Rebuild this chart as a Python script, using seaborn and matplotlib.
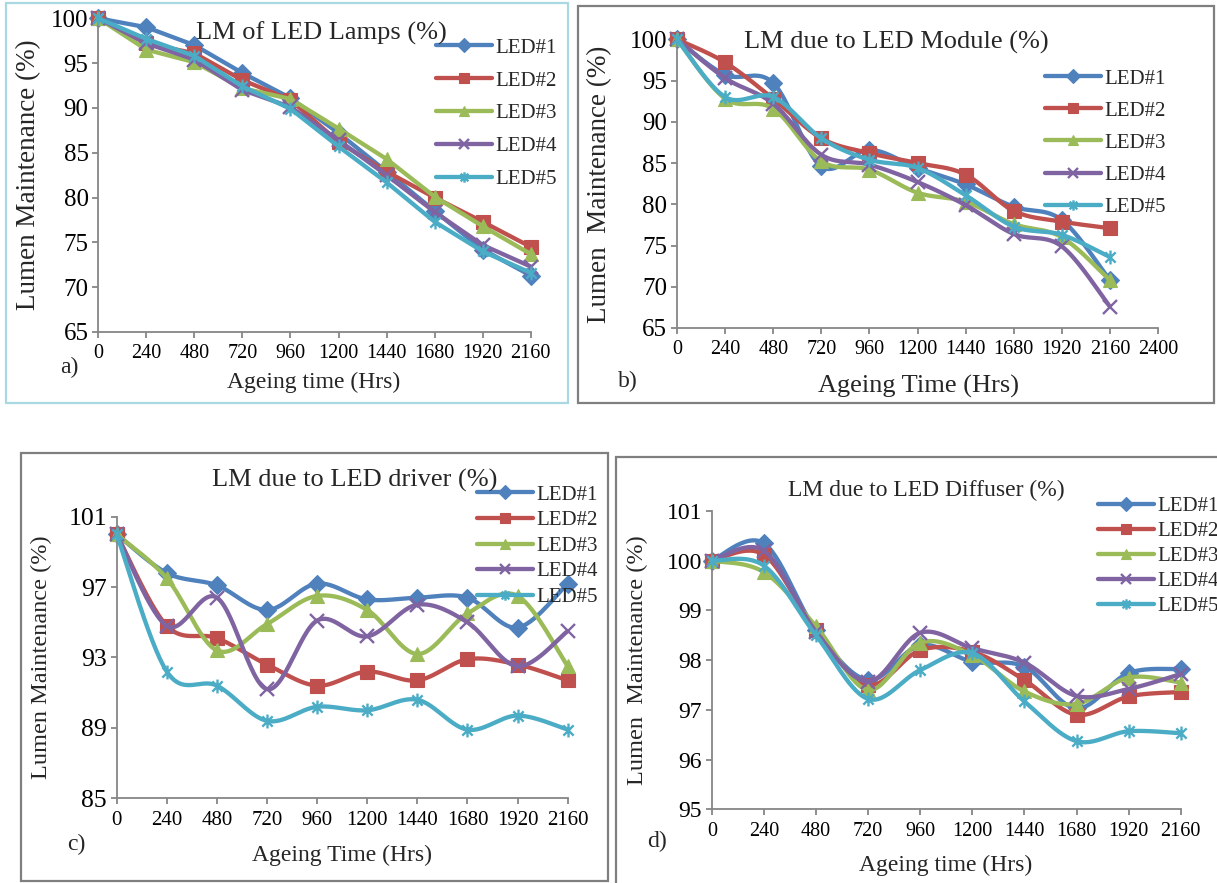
import numpy as np
import pandas as pd
import matplotlib
matplotlib.use("Agg")
import matplotlib.pyplot as plt
from matplotlib.lines import Line2D
from matplotlib.patches import Rectangle
from matplotlib.path import Path
import seaborn as sns

# ---------------------------------------------------------------- data
hours = [0, 240, 480, 720, 960, 1200, 1440, 1680, 1920, 2160]
led_names = ["LED#1", "LED#2", "LED#3", "LED#4", "LED#5"]

# a) lumen maintenance of the complete lamps (%)
lamp_led1 = [100, 99.0, 97.0, 93.9, 91.1, 87.2, 82.9, 78.5, 74.2, 71.3]
lamp_led2 = [100, 97.2, 96.1, 93.1, 90.9, 86.2, 82.9, 80.0, 77.3, 74.5]
lamp_led3 = [100, 96.5, 95.1, 92.2, 91.0, 87.7, 84.3, 80.1, 76.8, 73.7]
lamp_led4 = [100, 97.2, 95.4, 92.0, 90.1, 86.4, 82.5, 78.4, 74.7, 72.3]
lamp_led5 = [100, 97.7, 95.8, 92.4, 89.9, 85.7, 81.7, 77.3, 74.0, 71.6]

# b) lumen maintenance due to the LED module (%)
module_led1 = [100, 95.7, 94.7, 84.6, 86.6, 84.4, 82.4, 79.7, 78.1, 70.8]
module_led2 = [100, 97.2, 92.8, 88.0, 86.2, 85.0, 83.6, 79.2, 77.9, 77.1]
module_led3 = [100, 92.8, 91.6, 85.2, 84.2, 81.4, 80.3, 77.6, 76.0, 70.8]
module_led4 = [100, 95.3, 92.2, 86.0, 84.8, 82.7, 79.9, 76.4, 74.9, 67.6]
module_led5 = [100, 93.0, 93.0, 88.0, 85.4, 84.4, 81.1, 77.3, 76.3, 73.6]

# c) lumen maintenance due to the LED driver (%)
driver_led1 = [100, 97.8, 97.1, 95.7, 97.2, 96.3, 96.4, 96.4, 94.7, 97.2]
driver_led2 = [100, 94.8, 94.1, 92.6, 91.4, 92.2, 91.7, 92.9, 92.6, 91.7]
driver_led3 = [100, 97.5, 93.4, 94.9, 96.5, 95.7, 93.2, 95.5, 96.5, 92.5]
driver_led4 = [100, 94.8, 96.4, 91.2, 95.1, 94.2, 96.0, 95.0, 92.5, 94.5]
driver_led5 = [100, 92.2, 91.4, 89.4, 90.2, 90.0, 90.6, 88.9, 89.7, 88.9]

# d) lumen maintenance due to the diffuser (%)
diffuser_led1 = [100, 100.35, 98.6, 97.6, 98.3, 97.97, 97.87, 97.03, 97.74, 97.82]
diffuser_led2 = [100, 100.12, 98.6, 97.5, 98.2, 98.17, 97.6, 96.9, 97.27, 97.36]
diffuser_led3 = [100, 99.77, 98.68, 97.4, 98.35, 98.1, 97.37, 97.12, 97.65, 97.55]
diffuser_led4 = [100, 100.2, 98.57, 97.57, 98.55, 98.24, 97.95, 97.28, 97.42, 97.72]
diffuser_led5 = [100, 99.9, 98.5, 97.22, 97.8, 98.14, 97.17, 96.37, 96.57, 96.53]

# ---------------------------------------------------------------- style
sns.set_style("ticks")
plt.rcParams["font.family"] = ["Liberation Serif", "DejaVu Serif"]
plt.rcParams["axes.unicode_minus"] = False

colors = ["#4F81BD", "#C0504D", "#9BBB59", "#8064A2", "#4BACC6"]
AXIS_GREY = "#868686"

# x-with-vertical-bar marker used for the fifth series
star_path = Path(
    [(-1, -1), (1, 1), (-1, 1), (1, -1), (0, -1.35), (0, 1.35)],
    [Path.MOVETO, Path.LINETO, Path.MOVETO, Path.LINETO, Path.MOVETO, Path.LINETO],
)
markers = ["D", "s", "^", "x", star_path]
marker_sizes = [9.5, 10, 10.5, 9.5, 10]
marker_edge = [0.8, 0.8, 0.8, 1.7, 1.7]
LINE_W = 3.1

W, H = 1217, 883
fig = plt.figure(figsize=(W / 100, H / 100), dpi=100)


def fx(px):
    return px / W


def fy(py):
    return 1 - py / H


def px_rect(left, top, right, bottom):
    return [left / W, 1 - bottom / H, (right - left) / W, (bottom - top) / H]


def smooth_curve(xs, ys, steps=30):
    """Cardinal (Catmull-Rom) spline through the points, as used for smoothed chart lines."""
    p = np.column_stack([xs, ys]).astype(float)
    p = np.vstack([p[0], p, p[-1]])
    out = []
    t = np.linspace(0, 1, steps, endpoint=False)[:, None]
    for i in range(1, len(p) - 2):
        p0, p1, p2, p3 = p[i - 1], p[i], p[i + 1], p[i + 2]
        c1 = p1 + (p2 - p0) / 6
        c2 = p2 - (p3 - p1) / 6
        seg = ((1 - t) ** 3) * p1 + 3 * ((1 - t) ** 2) * t * c1 + 3 * (1 - t) * t ** 2 * c2 + t ** 3 * p2
        out.append(seg)
    out.append(p[-2][None, :])
    out = np.vstack(out)
    return out[:, 0], out[:, 1]


panels = [
    dict(series=[lamp_led1, lamp_led2, lamp_led3, lamp_led4, lamp_led5], smooth=False,
         rect=(98.3, 18.3, 530.7, 332), ylim=(65, 100), ystep=5, xmax=2160,
         title="LM of LED Lamps (%)", title_xy=(321, 33), title_size=19,
         ylabel="Lumen Maintenance (%)", ylabel_xy=(29, 175), ylabel_size=19.5,
         xlabel="Ageing time (Hrs)", xlabel_xy=(314, 382), xlabel_size=17,
         letter="a)", letter_xy=(69, 367), ytick_size=18, xtick_size=14.5,
         legend_xy=(436, 38), legend_spacing=0.64,
         border=(6, 3, 568, 403), border_color="#A8D8E2"),
    dict(series=[module_led1, module_led2, module_led3, module_led4, module_led5], smooth=True,
         rect=(677, 39.3, 1158, 328), ylim=(65, 100), ystep=5, xmax=2400,
         title="LM due to LED Module (%)", title_xy=(896, 42), title_size=19,
         ylabel="Lumen  Maintenance (%)", ylabel_xy=(600, 184), ylabel_size=19.5,
         xlabel="Ageing Time (Hrs)", xlabel_xy=(918, 386), xlabel_size=19,
         letter="b)", letter_xy=(628, 381), ytick_size=18, xtick_size=14.5,
         legend_xy=(1045, 69), legend_spacing=0.6,
         border=(577.5, 6, 1214, 403), border_color="#7F7F7F"),
    dict(series=[driver_led1, driver_led2, driver_led3, driver_led4, driver_led5], smooth=True,
         rect=(116.7, 516.7, 567.7, 798.3), ylim=(85, 101), ystep=4, xmax=2160,
         title="LM due to LED driver (%)", title_xy=(355, 480), title_size=19,
         ylabel="Lumen Maintenance (%)", ylabel_xy=(41, 657), ylabel_size=17.5,
         xlabel="Ageing Time (Hrs)", xlabel_xy=(342, 855), xlabel_size=17,
         letter="c)", letter_xy=(76, 844), ytick_size=18.5, xtick_size=15,
         legend_xy=(476.6, 485), legend_spacing=0.29,
         border=(21, 453, 608, 881), border_color="#7F7F7F"),
    dict(series=[diffuser_led1, diffuser_led2, diffuser_led3, diffuser_led4, diffuser_led5], smooth=True,
         rect=(711.8, 511, 1180.7, 809.3), ylim=(95, 101), ystep=1, xmax=2160,
         title="LM due to LED Diffuser (%)", title_xy=(926, 490), title_size=17,
         ylabel="Lumen  Maintenance (%)", ylabel_xy=(637, 660), ylabel_size=17.5,
         xlabel="Ageing time (Hrs)", xlabel_xy=(946, 865), xlabel_size=17,
         letter="d)", letter_xy=(657, 841), ytick_size=17, xtick_size=14.5,
         legend_xy=(1098, 496.5), legend_spacing=0.26,
         border=(616, 457, 1240, 900), border_color="#7F7F7F"),
]

for p in panels:
    ax = fig.add_axes(px_rect(*p["rect"]))

    for i, (name, vals) in enumerate(zip(led_names, p["series"])):
        z = 2 + i * 0.2
        if p["smooth"]:
            sx, sy = smooth_curve(hours, vals)
            sns.lineplot(x=sx, y=sy, ax=ax, color=colors[i], linewidth=LINE_W,
                         estimator=None, sort=False, clip_on=False, zorder=z,
                         solid_capstyle="round", solid_joinstyle="round")
        else:
            sns.lineplot(x=hours, y=vals, ax=ax, color=colors[i], linewidth=LINE_W,
                         estimator=None, sort=False, clip_on=False, zorder=z,
                         solid_capstyle="round", solid_joinstyle="round")
        sns.lineplot(x=hours, y=vals, ax=ax, color=colors[i], linestyle="",
                     marker=markers[i], markersize=marker_sizes[i],
                     markerfacecolor=colors[i], markeredgecolor=colors[i],
                     markeredgewidth=marker_edge[i], estimator=None, sort=False,
                     clip_on=False, zorder=z + 0.1)

    ax.set_xlim(0, p["xmax"])
    ax.set_ylim(*p["ylim"])
    ax.set_xticks(np.arange(0, p["xmax"] + 1, 240))
    ax.set_yticks(np.arange(p["ylim"][0], p["ylim"][1] + 0.01, p["ystep"]))
    ax.set_xticklabels([str(int(v)) for v in ax.get_xticks()], fontsize=p["xtick_size"])
    ax.set_yticklabels([str(int(v)) for v in ax.get_yticks()], fontsize=p["ytick_size"])
    ax.set_xlabel("")
    ax.set_ylabel("")
    for side in ("top", "right"):
        ax.spines[side].set_visible(False)
    for side in ("left", "bottom"):
        ax.spines[side].set_color(AXIS_GREY)
        ax.spines[side].set_linewidth(1.3)
    ax.tick_params(axis="both", direction="out", length=4, width=1.3,
                   color=AXIS_GREY, labelcolor="black", pad=3)
    ax.tick_params(axis="x", pad=5)
    ax.patch.set_alpha(0)

    handles = [Line2D([], [], color=colors[i], linewidth=LINE_W, marker=markers[i],
                      markersize=marker_sizes[i] * 0.75, markerfacecolor=colors[i],
                      markeredgecolor=colors[i], markeredgewidth=marker_edge[i],
                      solid_capstyle="round")
               for i in range(5)]
    ax.legend(handles, led_names, loc="upper left",
              bbox_to_anchor=(fx(p["legend_xy"][0]), fy(p["legend_xy"][1])),
              bbox_transform=fig.transFigure, frameon=False, fontsize=15,
              handlelength=2.7, handletextpad=0.15, labelspacing=p["legend_spacing"],
              borderpad=0, borderaxespad=0, numpoints=1)

    fig.text(fx(p["title_xy"][0]), fy(p["title_xy"][1]), p["title"],
             fontsize=p["title_size"], ha="center", va="center")
    fig.text(fx(p["ylabel_xy"][0]), fy(p["ylabel_xy"][1]), p["ylabel"],
             fontsize=p["ylabel_size"], ha="center", va="center", rotation=90)
    fig.text(fx(p["xlabel_xy"][0]), fy(p["xlabel_xy"][1]), p["xlabel"],
             fontsize=p["xlabel_size"], ha="center", va="center")
    fig.text(fx(p["letter_xy"][0]), fy(p["letter_xy"][1]), p["letter"],
             fontsize=17, ha="center", va="center")

    bl, bt, br, bb = p["border"]
    fig.patches.append(Rectangle((fx(bl), fy(bb)), fx(br - bl), (bb - bt) / H,
                                 transform=fig.transFigure, fill=False,
                                 edgecolor=p["border_color"], linewidth=1.6, zorder=0))

fig.savefig("out.png", dpi=100, facecolor="white")
